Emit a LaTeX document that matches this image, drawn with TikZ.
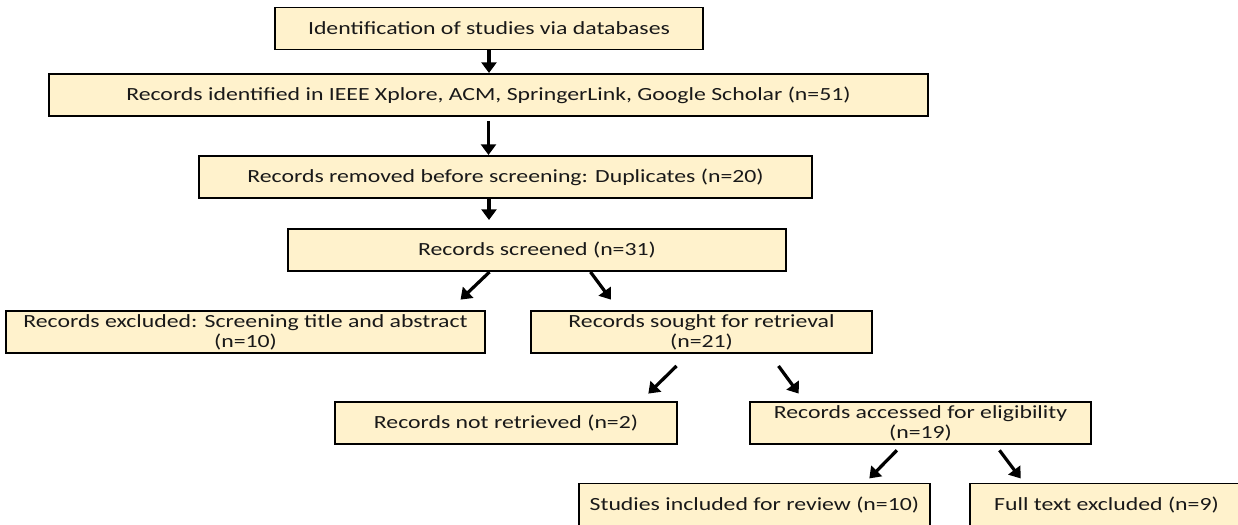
\documentclass[tikz,border=0pt]{standalone}
\usepackage{fontspec}
\setmainfont{Carlito}[FakeStretch=1.28]
\usetikzlibrary{arrows.meta, positioning, calc}
\definecolor{boxfill}{HTML}{FFF2CC}
\tikzstyle{stage} = [rectangle, draw=black, line width=1.4pt, fill=boxfill, inner sep=0pt, minimum height=1.05cm, align=center, text=black!90, font=\fontsize{13.2}{14.2}\selectfont]
\tikzstyle{arrow} = [line width=2.3pt, -{Triangle[length=7.5pt,width=10.5pt]}]

\begin{document}
\begin{tikzpicture}[x=0.025cm, y=-0.025cm]
    \useasboundingbox (0,0) rectangle (1238,525);
    \clip (0,0) rectangle (1238,525);

    % main column
    \node (ident) [stage, minimum width=10.7cm] at (489,28.5) {Identification of studies via databases};
    \node (records) [stage, minimum width=21.975cm] at (488.5,95) {Records identified in IEEE Xplore, ACM, SpringerLink, Google Scholar (n=51)};
    \node (removed) [stage, minimum width=15.325cm] at (505.5,177) {Records removed before screening: Duplicates (n=20)};
    \node (screened) [stage, minimum width=12.45cm] at (537,250) {Records screened (n=31)};

    % branches
    \node (excluded) [stage, minimum width=11.975cm] at (245.5,332) {Records excluded: Screening title and abstract\\(n=10)};
    \node (sought) [stage, minimum width=8.525cm] at (701.5,332) {Records sought for retrieval\\(n=21)};
    \node (notret) [stage, minimum width=8.525cm] at (506,423) {Records not retrieved (n=2)};
    \node (access) [stage, minimum width=8.525cm] at (920.5,423) {Records accessed for eligibility\\(n=19)};
    \node (included) [stage, minimum width=8.775cm] at (754.4,504.5) {Studies included for review (n=10)};
    \node (fulltext) [stage, minimum width=6.825cm] at (1106.5,504.5) {Full text excluded (n=9)};

    \draw [arrow] (ident.south) -- (ident.south |- records.north);
    \draw [arrow] ($(records.south)+(0,4)$) -- (records.south |- removed.north);
    \draw [arrow] (removed.south -| ident.south) -- ($(screened.north -| ident.south)+(0,-8)$);

    \draw [arrow] ($(screened.south)+(-47.5,0)$) -- ($(excluded.north east)+(-25.5,-10.4)$);
    \draw [arrow] ($(screened.south)+(53.5,0)$) -- ($(sought.north west)+(81,-10.4)$);
    \draw [arrow] ($(sought.south)+(-25,12)$) -- ($(notret.north east)+(-29.2,-7.4)$);
    \draw [arrow] ($(sought.south)+(77,12)$) -- ($(access.north west)+(49.8,-7.4)$);
    \draw [arrow] ($(access.south)+(-23.6,5.3)$) -- ($(included.north east)+(-61.6,-4.1)$);
    \draw [arrow] ($(access.south)+(79,5.3)$) -- ($(fulltext.north west)+(51.6,-4.1)$);
\end{tikzpicture}
\end{document}
